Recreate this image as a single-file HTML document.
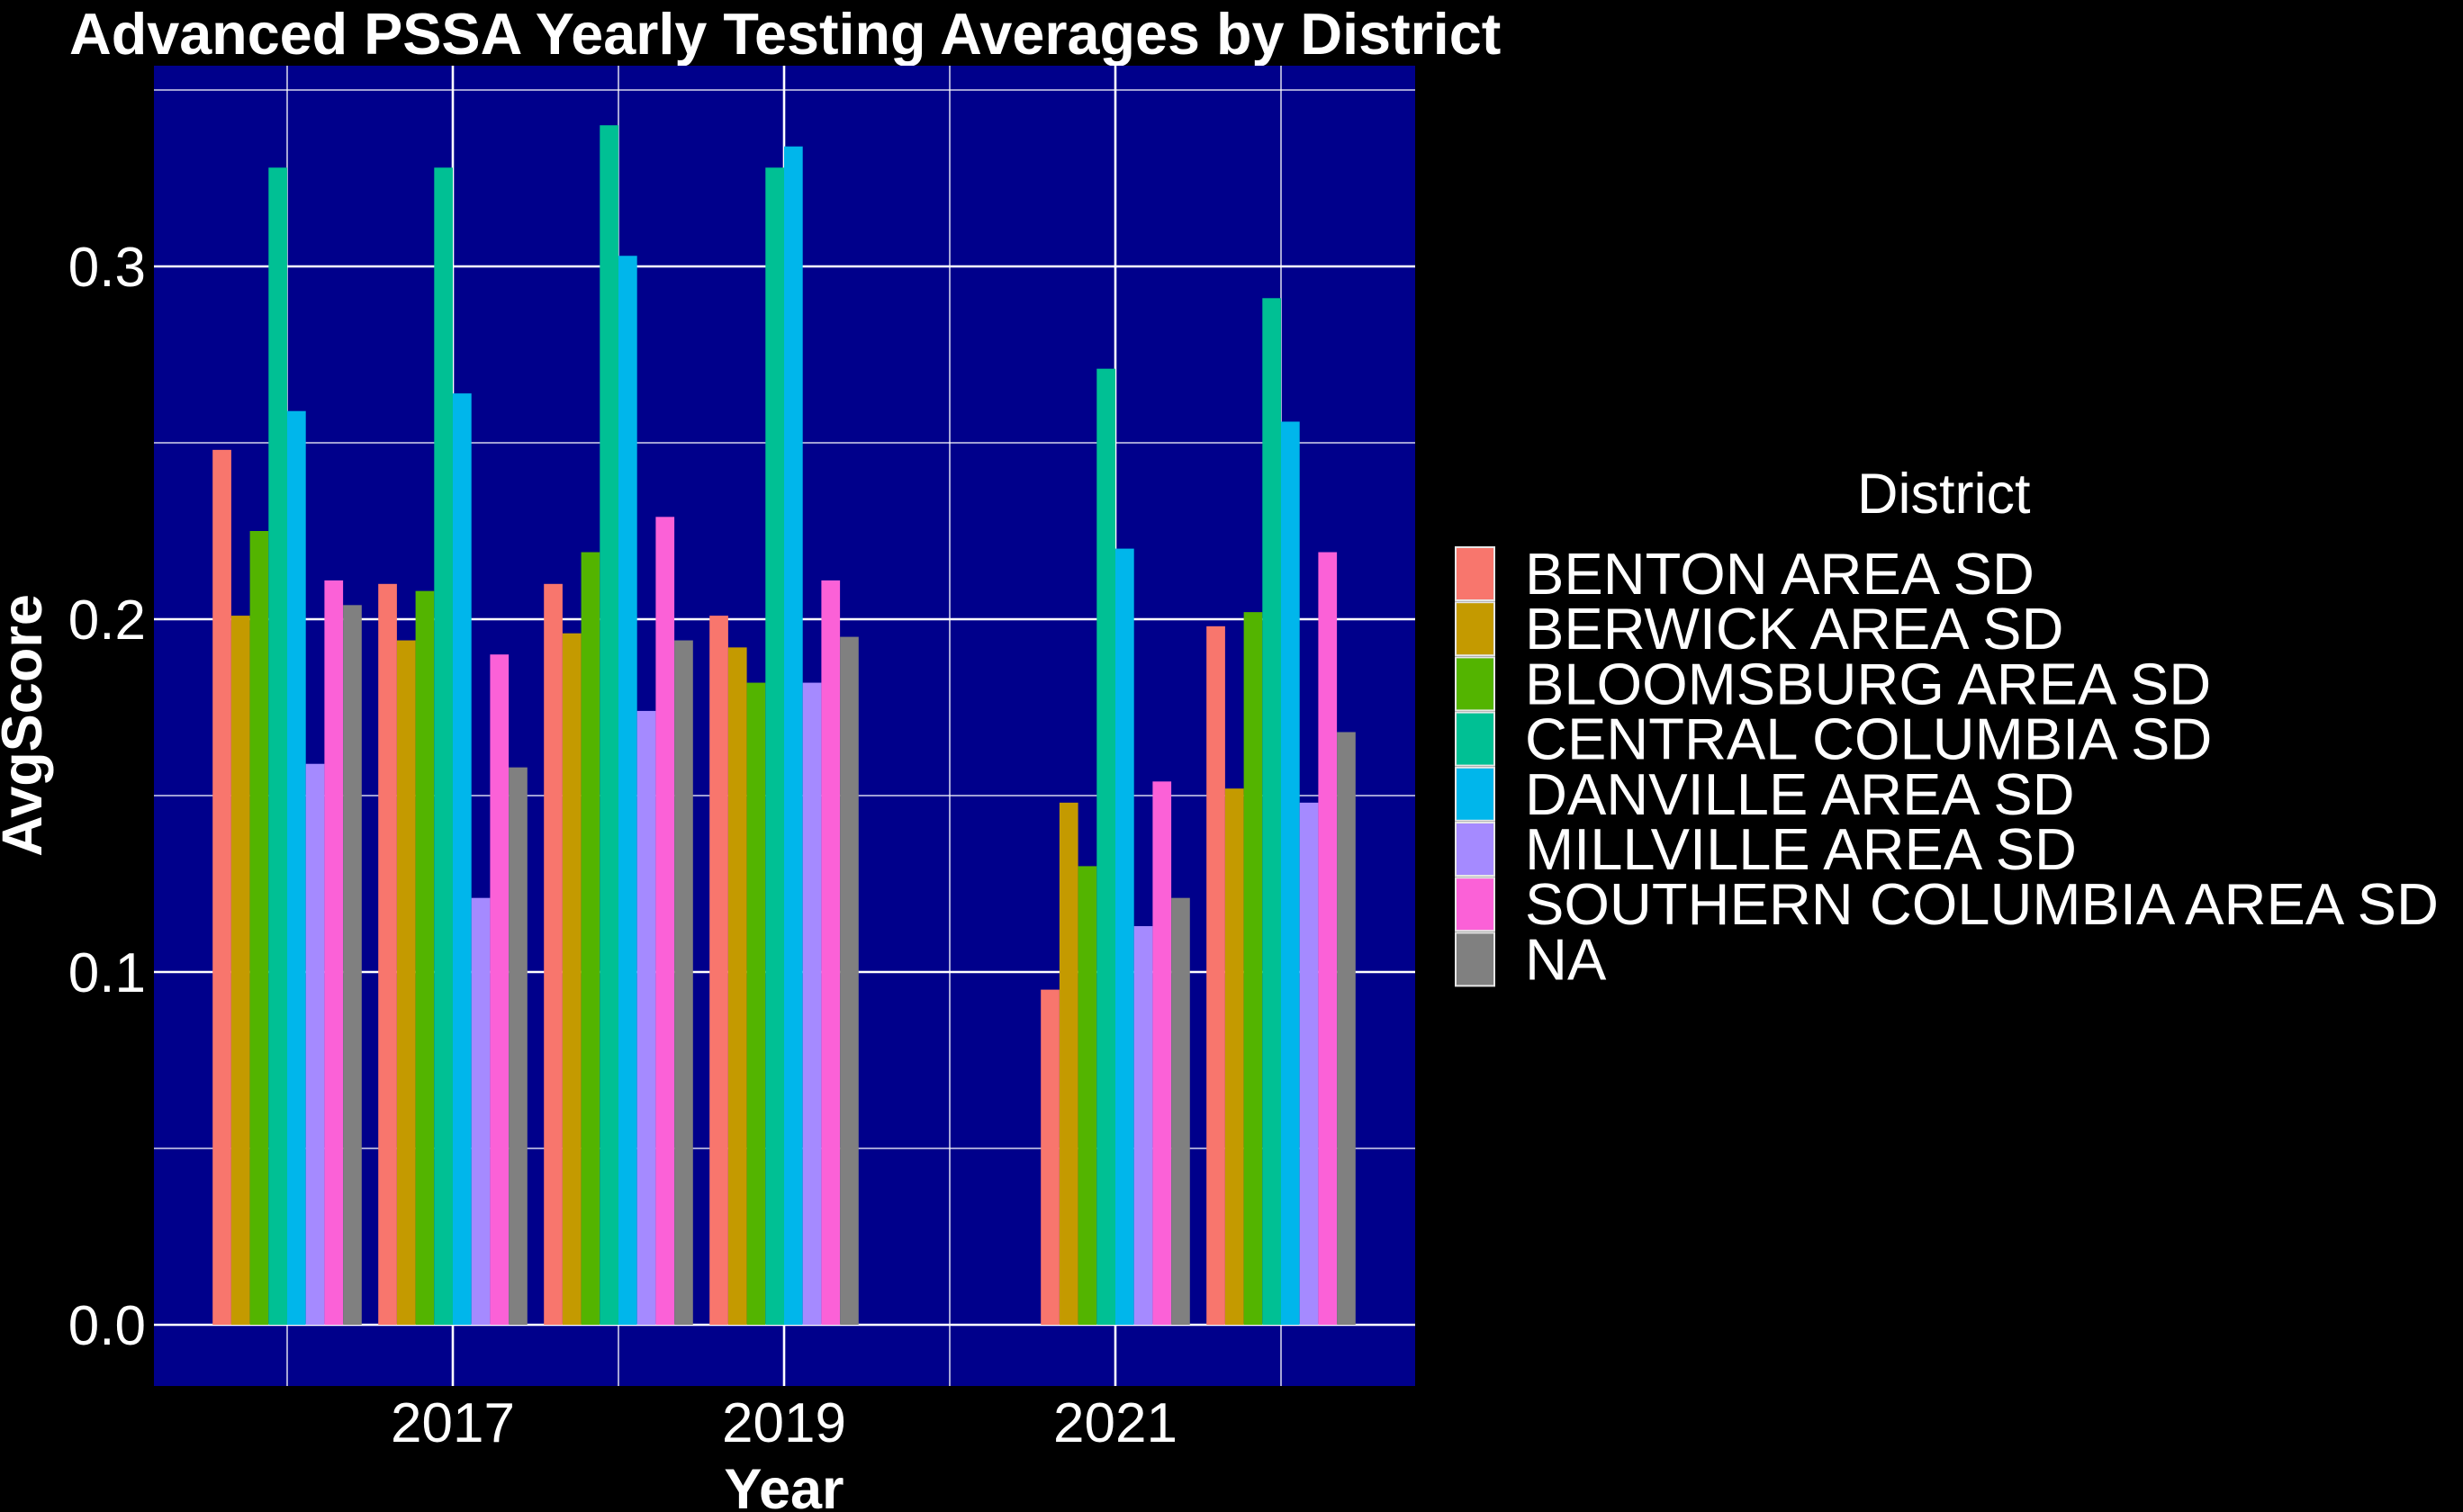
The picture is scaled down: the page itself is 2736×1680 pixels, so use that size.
<!DOCTYPE html>
<html><head><meta charset="utf-8"><style>
html,body{margin:0;padding:0;background:#000;}
svg{display:block;font-family:"Liberation Sans",Arial,sans-serif;}
</style></head><body>
<svg id="chart" width="2736" height="1680" viewBox="0 0 2736 1680" xmlns="http://www.w3.org/2000/svg">
<rect x="0" y="0" width="2736" height="1680" fill="#000"/>
<text x="77" y="60" font-size="64.7" font-weight="bold" fill="#fff">Advanced PSSA Yearly Testing Averages by District</text>
<rect x="171" y="73" width="1401" height="1467" fill="#00008B"/>
<g id="grid"></g>
<g id="bars"></g>
<g id="axes"></g>
<text transform="translate(46,806) rotate(-90)" text-anchor="middle" font-size="63" font-weight="bold" fill="#fff">AvgScore</text>
<text x="871" y="1676" text-anchor="middle" font-size="63" font-weight="bold" fill="#fff">Year</text>
<text x="2063" y="570" font-size="63" fill="#fff">District</text>
<g id="legend"></g>
</svg>
<script>
const years = [2016, 2017, 2018, 2019, 2021, 2022];
const districts = ["BENTON AREA SD","BERWICK AREA SD","BLOOMSBURG AREA SD","CENTRAL COLUMBIA SD","DANVILLE AREA SD","MILLVILLE AREA SD","SOUTHERN COLUMBIA AREA SD","NA"];
const colors = ["#F8766D","#C49A00","#53B400","#00C094","#00B6EB","#A58AFF","#FB61D7","#808080"];
const benton     = [0.248, 0.210, 0.210, 0.201, 0.095, 0.198];
const berwick    = [0.201, 0.194, 0.196, 0.192, 0.148, 0.152];
const bloomsburg = [0.225, 0.208, 0.219, 0.182, 0.130, 0.202];
const central    = [0.328, 0.328, 0.340, 0.328, 0.271, 0.291];
const danville   = [0.259, 0.264, 0.303, 0.334, 0.220, 0.256];
const millville  = [0.159, 0.121, 0.174, 0.182, 0.113, 0.148];
const southern   = [0.211, 0.190, 0.229, 0.211, 0.154, 0.219];
const naSeries   = [0.204, 0.158, 0.194, 0.195, 0.121, 0.168];
const yTicks = [0, 0.1, 0.2, 0.3];
const yTickLabels = ["0.0","0.1","0.2","0.3"];
const xTicks = [2017, 2019, 2021];
const xTickLabels = ["2017","2019","2021"];

const series = [benton, berwick, bloomsburg, central, danville, millville, southern, naSeries];
const NS = "http://www.w3.org/2000/svg";
const PL = 171, PR = 1572, PT = 73, PB = 1540;
const xScale = y => 503 + (y - 2017) * 184;
const yScale = v => 1472 - v * 3920;
function mk(tag, attrs, parent) {
  const e = document.createElementNS(NS, tag);
  for (const k in attrs) e.setAttribute(k, attrs[k]);
  parent.appendChild(e);
  return e;
}
const grid = document.getElementById('grid');
for (let v = 0.05; v < 0.36; v += 0.1) {
  const l = mk('line', {x1: PL, x2: PR, y1: yScale(v), y2: yScale(v), stroke: '#fff', 'stroke-width': 1.3}, grid);
  
  
}
for (const y of [2016, 2018, 2020, 2022]) {
  const l = mk('line', {x1: xScale(y), x2: xScale(y), y1: PT, y2: PB, stroke: '#fff', 'stroke-width': 1.3}, grid);
  
  
}
yTicks.forEach(v => {
  const l = mk('line', {x1: PL, x2: PR, y1: yScale(v), y2: yScale(v), stroke: '#fff', 'stroke-width': 2.6}, grid);
  
  
});
xTicks.forEach(y => {
  const l = mk('line', {x1: xScale(y), x2: xScale(y), y1: PT, y2: PB, stroke: '#fff', 'stroke-width': 2.6}, grid);
  
  
});
const bars = document.getElementById('bars');
const groupW = 184 * 0.9, bw = groupW / 8;
years.forEach((yr, i) => {
  series.forEach((s, j) => {
    const x = xScale(yr) - groupW / 2 + j * bw;
    const y = yScale(s[i]);
    const r = mk('rect', {x: x, y: y, width: bw, height: yScale(0) - y, fill: colors[j]}, bars);
    
    
  });
});
const axes = document.getElementById('axes');
yTicks.forEach((v, i) => {
  const t = mk('text', {x: 162, y: yScale(v) + 22, 'text-anchor': 'end', 'font-size': 62, fill: '#fff'}, axes);
  t.textContent = yTickLabels[i];
  
  
});
xTicks.forEach((y, i) => {
  const t = mk('text', {x: xScale(y), y: 1602, 'text-anchor': 'middle', 'font-size': 62, fill: '#fff'}, axes);
  t.textContent = xTickLabels[i];
  
  
});
const legend = document.getElementById('legend');
districts.forEach((d, j) => {
  const top = 608 + j * 61.2;
  const r = mk('rect', {x: 1617, y: top, width: 43, height: 59, fill: colors[j], stroke: '#e6e6e6', 'stroke-width': 2}, legend);
  
  
  const t = mk('text', {x: 1694, y: top + 52, 'font-size': 65, fill: '#fff'}, legend);
  t.textContent = d;
  
  
});
</script>
</body></html>
